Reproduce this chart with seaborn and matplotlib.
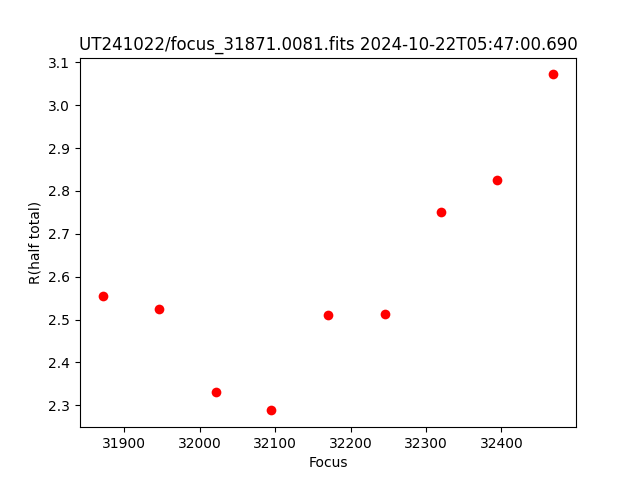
import matplotlib
matplotlib.use("Agg")
import matplotlib.pyplot as plt
import seaborn as sns
import pandas as pd

focus = [31871, 31946, 32021, 32095, 32170, 32245, 32320, 32394, 32469]
r_half = [2.554, 2.524, 2.330, 2.288, 2.510, 2.512, 2.750, 2.825, 3.072]
title = "UT241022/focus_31871.0081.fits 2024-10-22T05:47:00.690"

df = pd.DataFrame({"Focus": focus, "R(half total)": r_half})

fig, ax = plt.subplots(figsize=(6.4, 4.8), dpi=100)
sns.scatterplot(data=df, x="Focus", y="R(half total)", color="red",
                s=49, linewidth=0, ax=ax)
ax.set_title(title)
ax.set_xlabel("Focus")
ax.set_ylabel("R(half total)")
fig.savefig("out.png", dpi=100)
